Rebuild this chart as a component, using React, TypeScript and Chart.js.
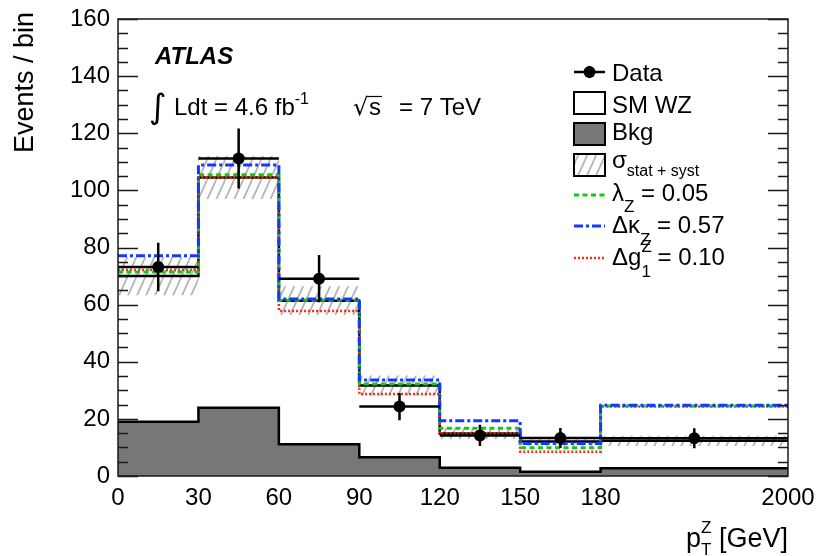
import React, { useEffect, useRef } from 'react';
import { Chart, registerables } from 'chart.js';

Chart.register(...registerables);

// ---- Axis definition: bin edges (GeV labels) and their positions on the drawn axis
const binEdgeLabels = ['0', '30', '60', '90', '120', '150', '180', '2000'];
const binEdgeAxis = [0, 1, 2, 3, 4, 5, 6, 8.33]; // last bin (180-2000) drawn wider

// ---- Values per bin (7 bins)
const dataValues = [73.2, 111.2, 69.1, 24.3, 14.2, 13.3, 13.2];
const dataErrors = [8.5, 10.5, 8.3, 4.8, 3.7, 3.5, 3.5];
const smWZ = [70.0, 104.5, 61.4, 31.7, 14.9, 12.1, 12.3];
const smUncertainty = [6.7, 7.5, 5.0, 3.5, 2.0, 1.5, 1.8];
const bkg = [19.0, 23.9, 11.1, 6.6, 2.9, 1.5, 2.7];
const lambdaZ = [71.4, 105.5, 61.5, 32.2, 16.7, 9.9, 24.5];
const dKappaZ = [77.1, 108.9, 62.0, 33.6, 19.3, 11.4, 24.8];
const dg1Z = [72.1, 104.5, 57.8, 28.7, 14.9, 8.5, 24.3];

const yTicks = [0, 20, 40, 60, 80, 100, 120, 140, 160];

const FONT = '"Liberation Sans", Arial, Helvetica, sans-serif';
const GREEN = '#14c814';
const BLUE = '#1438ff';
const RED = '#ff2a14';
const BKG_GRAY = '#777777';

function stepPoints(values: number[]) {
  const pts = values.map((v, i) => ({ x: binEdgeAxis[i], y: v }));
  pts.push({ x: binEdgeAxis[binEdgeAxis.length - 1], y: values[values.length - 1] });
  return pts;
}

function makeHatch(): CanvasPattern | string {
  const w = 9, h = 20;
  const c = document.createElement('canvas');
  c.width = w; c.height = h;
  const g = c.getContext('2d');
  if (!g) return '#ccc';
  g.strokeStyle = '#b5b5b5';
  g.lineWidth = 1.8;
  for (const k of [-1, 0, 1]) {
    g.beginPath();
    g.moveTo(k * w, h);
    g.lineTo(k * w + w, 0);
    g.stroke();
  }
  const p = g.createPattern(c, 'repeat');
  return p || '#ccc';
}

type Part = { t: string; size: number; dy?: number; noAdvance?: boolean; font?: string; weight?: string };

function drawRich(ctx: CanvasRenderingContext2D, x: number, y: number, parts: Part[], align: 'left' | 'right' = 'left') {
  let total = 0;
  const widths = parts.map((p) => {
    ctx.font = `${p.weight || ''} ${p.size}px ${p.font || FONT}`;
    return ctx.measureText(p.t).width;
  });
  parts.forEach((p, i) => { if (!p.noAdvance) total += widths[i]; });
  let cx = align === 'right' ? x - total : x;
  ctx.textBaseline = 'alphabetic';
  ctx.textAlign = 'left';
  parts.forEach((p, i) => {
    ctx.font = `${p.weight || ''} ${p.size}px ${p.font || FONT}`;
    ctx.fillText(p.t, cx, y + (p.dy || 0));
    if (!p.noAdvance) cx += widths[i];
  });
}

export default function App() {
  const ref = useRef<HTMLCanvasElement | null>(null);

  useEffect(() => {
    const canvas = ref.current;
    if (!canvas) return;
    const hatch = makeHatch();

    const nb = dataValues.length;
    const ebar: ({ x: number; y: number | null })[] = [];
    const centers: { x: number; y: number }[] = [];
    for (let i = 0; i < nb; i++) {
      const l = binEdgeAxis[i], r = binEdgeAxis[i + 1], c = (l + r) / 2;
      const v = dataValues[i], e = dataErrors[i];
      ebar.push({ x: l, y: v }, { x: r, y: v }, { x: r, y: null });
      ebar.push({ x: c, y: v - e }, { x: c, y: v + e }, { x: c, y: null });
      centers.push({ x: c, y: v });
    }

    const hi = smWZ.map((v, i) => v + smUncertainty[i]);
    const lo = smWZ.map((v, i) => v - smUncertainty[i]);

    const decor = {
      id: 'atlasDecor',
      afterDatasetsDraw(chart: any) {
        const { ctx, chartArea: a, scales } = chart;
        const y = scales.y;
        ctx.save();
        ctx.strokeStyle = '#1a1a1a';
        ctx.lineWidth = 1.5;
        for (let v = 0; v <= 160; v += 5) {
          const py = Math.round(y.getPixelForValue(v)) + 0.5;
          const len = v % 20 === 0 ? 20 : 10;
          ctx.beginPath();
          ctx.moveTo(a.left, py); ctx.lineTo(a.left + len, py);
          ctx.moveTo(a.right - len, py); ctx.lineTo(a.right, py);
          ctx.stroke();
        }
        ctx.strokeRect(a.left, a.top, a.right - a.left, a.bottom - a.top);
        ctx.restore();
      },
      afterDraw(chart: any) {
        const { ctx } = chart;
        ctx.save();
        ctx.fillStyle = '#000';

        // ATLAS label
        drawRich(ctx, 155, 64, [{ t: 'ATLAS', size: 24, weight: 'italic bold' }]);
        // Luminosity
        drawRich(ctx, 149, 118, [{ t: '\u222B', size: 34, font: '"DejaVu Sans", sans-serif' }]);
        drawRich(ctx, 174, 115, [
          { t: 'Ldt = 4.6 fb', size: 24 },
          { t: '-1', size: 16, dy: -11 },
        ]);
        drawRich(ctx, 353, 115, [{ t: '\u221A', size: 24, font: '"DejaVu Sans", sans-serif' }]);
        ctx.font = `24px ${FONT}`;
        const sw = ctx.measureText('s').width;
        ctx.fillText('s', 369, 115);
        ctx.beginPath();
        ctx.strokeStyle = '#000';
        ctx.lineWidth = 1.2;
        ctx.moveTo(368, 96.5); ctx.lineTo(369 + sw + 1, 96.5);
        ctx.stroke();
        drawRich(ctx, 399, 115, [{ t: '= 7 TeV', size: 24 }]);

        // Axis titles
        ctx.save();
        ctx.translate(33, 12);
        ctx.rotate(-Math.PI / 2);
        ctx.font = `27px ${FONT}`;
        ctx.textAlign = 'right';
        ctx.textBaseline = 'alphabetic';
        ctx.fillText('Events / bin', 0, 0);
        ctx.restore();

        drawRich(ctx, 788, 547, [
          { t: 'p', size: 27 },
          { t: 'Z', size: 17, dy: -14, noAdvance: true },
          { t: 'T', size: 17, dy: 8 },
          { t: ' [GeV]', size: 27 },
        ], 'right');

        // Legend
        const lx0 = 574, lx1 = 605, tx = 612;
        // Data
        ctx.strokeStyle = '#000';
        ctx.lineWidth = 2.5;
        ctx.setLineDash([]);
        ctx.beginPath();
        ctx.moveTo(lx0, 72); ctx.lineTo(lx1, 72);
        ctx.moveTo(589.5, 66); ctx.lineTo(589.5, 78);
        ctx.stroke();
        ctx.beginPath(); ctx.arc(589.5, 72, 6, 0, Math.PI * 2); ctx.fill();
        drawRich(ctx, tx, 81, [{ t: 'Data', size: 24 }]);
        // SM WZ
        ctx.lineWidth = 2;
        ctx.fillStyle = '#fff';
        ctx.fillRect(lx0, 92, lx1 - lx0, 22);
        ctx.strokeRect(lx0, 92, lx1 - lx0, 22);
        ctx.fillStyle = '#000';
        drawRich(ctx, tx, 113, [{ t: 'SM WZ', size: 24 }]);
        // Bkg
        ctx.fillStyle = BKG_GRAY;
        ctx.fillRect(lx0, 123, lx1 - lx0, 22);
        ctx.strokeRect(lx0, 123, lx1 - lx0, 22);
        ctx.fillStyle = '#000';
        drawRich(ctx, tx, 140, [{ t: 'Bkg', size: 24 }]);
        // sigma
        ctx.fillStyle = hatch as any;
        ctx.fillRect(lx0, 154, lx1 - lx0, 22);
        ctx.strokeRect(lx0, 154, lx1 - lx0, 22);
        ctx.fillStyle = '#000';
        drawRich(ctx, tx, 168, [
          { t: '\u03C3', size: 24 },
          { t: 'stat + syst', size: 16, dy: 8 },
        ]);
        // lines
        const lineEntry = (yy: number, color: string, dash: number[], w: number) => {
          ctx.strokeStyle = color;
          ctx.lineWidth = w;
          ctx.setLineDash(dash);
          ctx.beginPath();
          ctx.moveTo(lx0, yy); ctx.lineTo(lx1, yy);
          ctx.stroke();
          ctx.setLineDash([]);
        };
        lineEntry(195, GREEN, [5, 3.5], 3);
        lineEntry(226, BLUE, [9, 3, 3, 3], 3);
        lineEntry(258, RED, [2, 2], 2.5);
        drawRich(ctx, tx, 201, [
          { t: '\u03BB', size: 24 },
          { t: 'Z', size: 17, dy: 11 },
          { t: ' = 0.05', size: 24 },
        ]);
        drawRich(ctx, tx, 233, [
          { t: '\u0394\u03BA', size: 24 },
          { t: 'Z', size: 17, dy: 12 },
          { t: ' = 0.57', size: 24 },
        ]);
        drawRich(ctx, tx, 265, [
          { t: '\u0394g', size: 24 },
          { t: 'Z', size: 17, dy: -13, noAdvance: true },
          { t: '1', size: 17, dy: 12 },
          { t: ' = 0.10', size: 24 },
        ]);
        ctx.restore();
      },
    };

    const chart = new Chart(canvas, {
      type: 'line',
      data: {
        datasets: [
          {
            label: 'Bkg',
            data: stepPoints(bkg),
            stepped: 'before',
            borderColor: '#000',
            borderWidth: 2.5,
            backgroundColor: BKG_GRAY,
            fill: 'origin',
            pointRadius: 0,
            order: 10,
          },
          {
            label: 'unc-lo',
            data: stepPoints(lo),
            stepped: 'before',
            borderWidth: 0,
            borderColor: 'rgba(0,0,0,0)',
            fill: false,
            pointRadius: 0,
            order: 9,
          },
          {
            label: 'unc-hi',
            data: stepPoints(hi),
            stepped: 'before',
            borderWidth: 0,
            borderColor: 'rgba(0,0,0,0)',
            backgroundColor: hatch as any,
            fill: { target: 1, above: hatch as any, below: hatch as any },
            pointRadius: 0,
            order: 8,
          },
          {
            label: 'SM WZ',
            data: stepPoints(smWZ),
            stepped: 'before',
            borderColor: '#000',
            borderWidth: 2.5,
            fill: false,
            pointRadius: 0,
            order: 7,
          },
          {
            label: 'dg1Z',
            data: stepPoints(dg1Z),
            stepped: 'before',
            borderColor: RED,
            borderWidth: 2.5,
            borderDash: [2, 2],
            fill: false,
            pointRadius: 0,
            order: 6,
          },
          {
            label: 'lambdaZ',
            data: stepPoints(lambdaZ),
            stepped: 'before',
            borderColor: GREEN,
            borderWidth: 3,
            borderDash: [5, 3.5],
            fill: false,
            pointRadius: 0,
            order: 5,
          },
          {
            label: 'dKappaZ',
            data: stepPoints(dKappaZ),
            stepped: 'before',
            borderColor: BLUE,
            borderWidth: 3,
            borderDash: [9, 3, 3, 3],
            fill: false,
            pointRadius: 0,
            order: 4,
          },
          {
            label: 'Data errors',
            data: ebar as any,
            borderColor: '#000',
            borderWidth: 2.5,
            spanGaps: false,
            fill: false,
            pointRadius: 0,
            order: 2,
          },
          {
            label: 'Data',
            data: centers,
            showLine: false,
            pointRadius: 6,
            pointBackgroundColor: '#000',
            pointBorderColor: '#000',
            pointBorderWidth: 0,
            order: 1,
          },
        ],
      },
      options: {
        responsive: false,
        animation: false,
        devicePixelRatio: 1,
        events: [],
        layout: { padding: { left: 0, right: 33, top: 19, bottom: 0 } },
        plugins: {
          legend: { display: false },
          tooltip: { enabled: false },
          title: { display: false },
        },
        scales: {
          x: {
            type: 'linear',
            min: binEdgeAxis[0],
            max: binEdgeAxis[binEdgeAxis.length - 1],
            grid: { display: false },
            border: { display: false },
            afterBuildTicks: (scale: any) => {
              scale.ticks = binEdgeAxis.map((v) => ({ value: v }));
            },
            afterFit: (scale: any) => { scale.height = 80; },
            ticks: {
              autoSkip: false,
              maxRotation: 0,
              minRotation: 0,
              padding: 0,
              color: '#000',
              font: { family: FONT, size: 24 },
              callback: (_v: any, i: number) => binEdgeLabels[i],
            },
          },
          y: {
            type: 'linear',
            min: 0,
            max: 160,
            grid: { display: false },
            border: { display: false },
            afterBuildTicks: (scale: any) => {
              scale.ticks = yTicks.map((v) => ({ value: v }));
            },
            afterFit: (scale: any) => { scale.width = 118; },
            ticks: {
              padding: 0,
              color: '#000',
              font: { family: FONT, size: 24 },
            },
          },
        },
      } as any,
      plugins: [decor],
    });

    return () => chart.destroy();
  }, []);

  return (
    <div style={{ position: 'absolute', left: 0, top: 0, width: 821, height: 556, background: '#fff' }}>
      <canvas ref={ref} width={821} height={556} style={{ display: 'block' }} />
    </div>
  );
}
